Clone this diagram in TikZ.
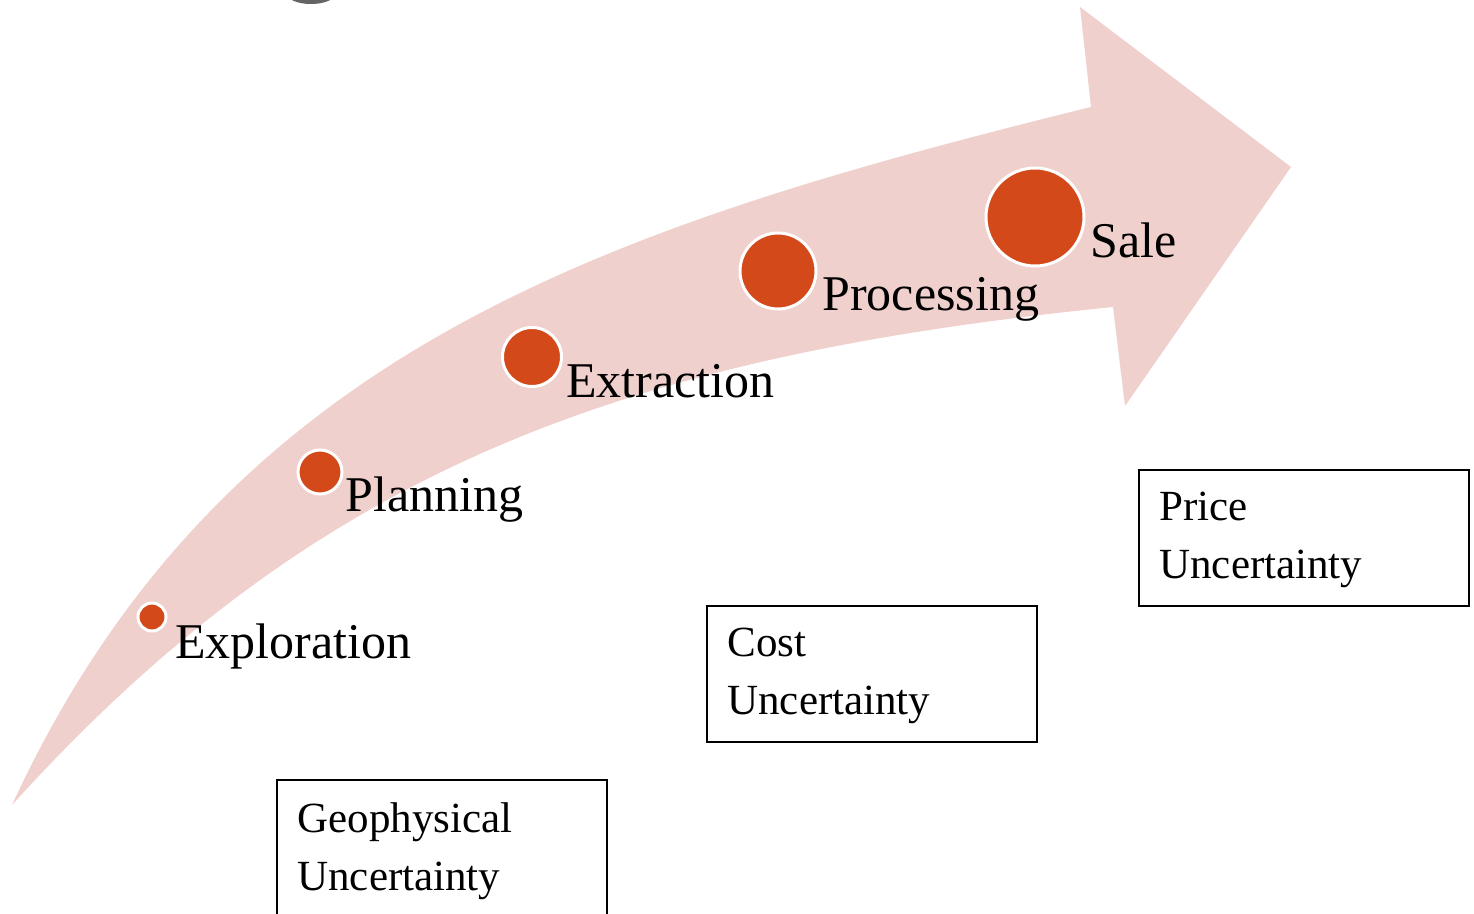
\documentclass[tikz,border=0pt]{standalone}
\usepackage{fontspec}
\setmainfont{Liberation Serif}
\usetikzlibrary{calc}

\definecolor{bandpink}{RGB}{239,208,205}
\definecolor{dotorange}{RGB}{211,73,25}
\definecolor{titlegray}{RGB}{102,99,99}

\tikzset{
  stage/.style={circle, fill=dotorange, draw=white, line width=1.5pt, inner sep=0pt},
  stagelabel/.style={anchor=base west, inner sep=0pt, font=\fontsize{25}{30}\selectfont},
  ubox/.style={draw=black, line width=1pt, rectangle, anchor=north west,
               minimum width=165pt, minimum height=68pt, inner sep=0pt},
  uboxtext/.style={anchor=north west, inner sep=0pt, align=left,
                   font=\fontsize{21.5}{29}\selectfont}
}

\begin{document}
\begin{tikzpicture}[x=0.5pt, y=-0.5pt]
  \useasboundingbox (0,0) rectangle (1474,914);

  % bottom of a letter from the heading above
  \fill[titlegray] (311,-6) ellipse [x radius=24, y radius=10];

  % curved process arrow
  \fill[bandpink]
    (12,805) .. controls (222,350) and (606,227) .. (1091,107)
    -- (1080,7) -- (1291,167) -- (1125,406) -- (1113,307)
    .. controls (616,357) and (313.5,472) .. (12,805)
    -- cycle;

  % stages along the arrow
  \node[stage, minimum size=14pt] (s1) at (152,617) {};
  \node[stage, minimum size=22pt] (s2) at (320,472) {};
  \node[stage, minimum size=29.5pt] (s3) at (532,357) {};
  \node[stage, minimum size=38pt] (s4) at (778,271) {};
  \node[stage, minimum size=49pt] (s5) at (1035,217) {};

  \node[stagelabel] (l1) at (175,659) {Exploration};
  \node[stagelabel] (l2) at (345,512) {Planning};
  \node[stagelabel] (l3) at (566,398) {Extraction};
  \node[stagelabel] (l4) at (822,311) {Processing};
  \node[stagelabel] (l5) at (1090,258) {Sale};

  % sources of uncertainty
  \node[ubox] (geo) at (276,779) {};
  \node[ubox] (cost) at (706,605) {};
  \node[ubox] (price) at (1138,469) {};

  \node[uboxtext] (geot) at ($(geo.north west)+(21,23)$) {Geophysical\\Uncertainty};
  \node[uboxtext] (costt) at ($(cost.north west)+(21,23)$) {Cost\\Uncertainty};
  \node[uboxtext] (pricet) at ($(price.north west)+(21,23)$) {Price\\Uncertainty};
\end{tikzpicture}
\end{document}
